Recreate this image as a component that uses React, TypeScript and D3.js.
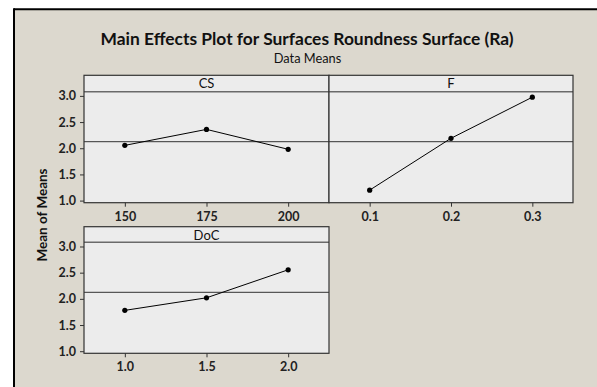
import { useEffect, useRef } from 'react';
import * as d3 from 'd3';

const factorNames = ['CS', 'F', 'DoC'];
const csLevels = ['150', '175', '200'];
const csMeans = [2.055, 2.36, 1.98];
const fLevels = ['0.1', '0.2', '0.3'];
const fMeans = [1.2, 2.19, 2.975];
const docLevels = ['1.0', '1.5', '2.0'];
const docMeans = [1.78, 2.02, 2.555];
const grandMean = 2.125;
const yTicks = [1.0, 1.5, 2.0, 2.5, 3.0];

const W = 597;
const H = 387;
const FONT = 'Lato, "Open Sans", sans-serif';

export default function App() {
  const svgRef = useRef<SVGSVGElement>(null);

  useEffect(() => {
    const svg = d3.select(svgRef.current);
    svg.selectAll('*').remove();

    // frame
    svg.append('rect').attr('width', W).attr('height', H).attr('fill', '#ffffff');
    svg.append('rect').attr('x', 14).attr('y', 9).attr('width', W - 14).attr('height', H - 9).attr('fill', '#dcd8ce');
    svg.append('line').attr('x1', 14).attr('x2', W).attr('y1', 9.3).attr('y2', 9.3).attr('stroke', '#000').attr('stroke-width', 2);
    svg.append('line').attr('x1', 14).attr('x2', 14).attr('y1', 8.3).attr('y2', H).attr('stroke', '#000').attr('stroke-width', 2);

    svg.append('text')
      .attr('x', 307).attr('y', 44.5)
      .attr('text-anchor', 'middle')
      .style('font-family', FONT).style('font-weight', 700).style('font-size', '17.4px')
      .attr('fill', '#111')
      .text('Main Effects Plot for Surfaces Roundness Surface (Ra)');
    svg.append('text')
      .attr('x', 307.5).attr('y', 63.3)
      .attr('text-anchor', 'middle')
      .style('font-family', FONT).style('font-size', '12.8px')
      .attr('fill', '#111')
      .text('Data Means');

    svg.append('text')
      .attr('transform', 'translate(47,215) rotate(-90)')
      .attr('text-anchor', 'middle')
      .style('font-family', FONT).style('font-weight', 700).style('font-size', '13.5px')
      .attr('fill', '#111')
      .text('Mean of Means');

    const cols = [[84, 329], [329, 573]];
    const rows = [[75.3, 91.7, 202.7], [226.7, 242.3, 353.3]];
    const panels = [
      { name: factorNames[0], levels: csLevels, means: csMeans, col: 0, row: 0 },
      { name: factorNames[1], levels: fLevels, means: fMeans, col: 1, row: 0 },
      { name: factorNames[2], levels: docLevels, means: docMeans, col: 0, row: 1 },
    ];

    panels.forEach((p) => {
      const [x0, x1] = cols[p.col];
      const [top, hb, bottom] = rows[p.row];
      const x = d3.scalePoint<string>().domain(p.levels).range([x0, x1]).padding(0.5);
      const y = d3.scaleLinear().domain([0.96, 3.08]).range([bottom, hb]);
      const g = svg.append('g');

      g.append('rect').attr('x', x0).attr('y', top).attr('width', x1 - x0).attr('height', bottom - top)
        .attr('fill', '#ececec');
      g.append('line').attr('x1', x0).attr('x2', x1).attr('y1', y(grandMean)).attr('y2', y(grandMean))
        .attr('stroke', '#333').attr('stroke-width', 1);
      g.append('line').attr('x1', x0).attr('x2', x1).attr('y1', hb).attr('y2', hb)
        .attr('stroke', '#6a6a6a').attr('stroke-width', 1.6);
      g.append('rect').attr('x', x0).attr('y', top).attr('width', x1 - x0).attr('height', bottom - top)
        .attr('fill', 'none').attr('stroke', '#333').attr('stroke-width', 1.2);
      g.append('text')
        .attr('x', (x0 + x1) / 2).attr('y', top + 13)
        .attr('text-anchor', 'middle')
        .style('font-family', FONT).style('font-size', '13px')
        .attr('fill', '#111')
        .text(p.name);

      const pts = p.levels.map((l, i) => [x(l) as number, y(p.means[i])] as [number, number]);
      g.append('path').datum(pts)
        .attr('d', d3.line())
        .attr('fill', 'none').attr('stroke', '#000').attr('stroke-width', 1);
      g.selectAll('circle.pt').data(pts).enter().append('circle')
        .attr('cx', (d) => d[0]).attr('cy', (d) => d[1]).attr('r', 2.6).attr('fill', '#000');

      // x axis
      const xa = g.append('g').attr('transform', `translate(0,${bottom})`)
        .call(d3.axisBottom(x).tickSize(4).tickPadding(5));
      xa.select('.domain').remove();
      xa.selectAll('line').attr('stroke', '#333');
      xa.selectAll('text').style('font-family', FONT).style('font-weight', 700).style('font-size', '12.5px').attr('fill', '#222');

      if (p.col === 0) {
        const ya = g.append('g').attr('transform', `translate(${x0},0)`)
          .call(d3.axisLeft(y).tickValues(yTicks).tickFormat(d3.format('.1f')).tickSize(4).tickPadding(4));
        ya.select('.domain').remove();
        ya.selectAll('line').attr('stroke', '#333');
        ya.selectAll('text').style('font-family', FONT).style('font-weight', 700).style('font-size', '12.5px').attr('fill', '#222');
      }
    });
  }, []);

  return (
    <svg
      ref={svgRef}
      width={W}
      height={H}
      style={{ position: 'fixed', left: 0, top: 0, display: 'block' }}
    />
  );
}
